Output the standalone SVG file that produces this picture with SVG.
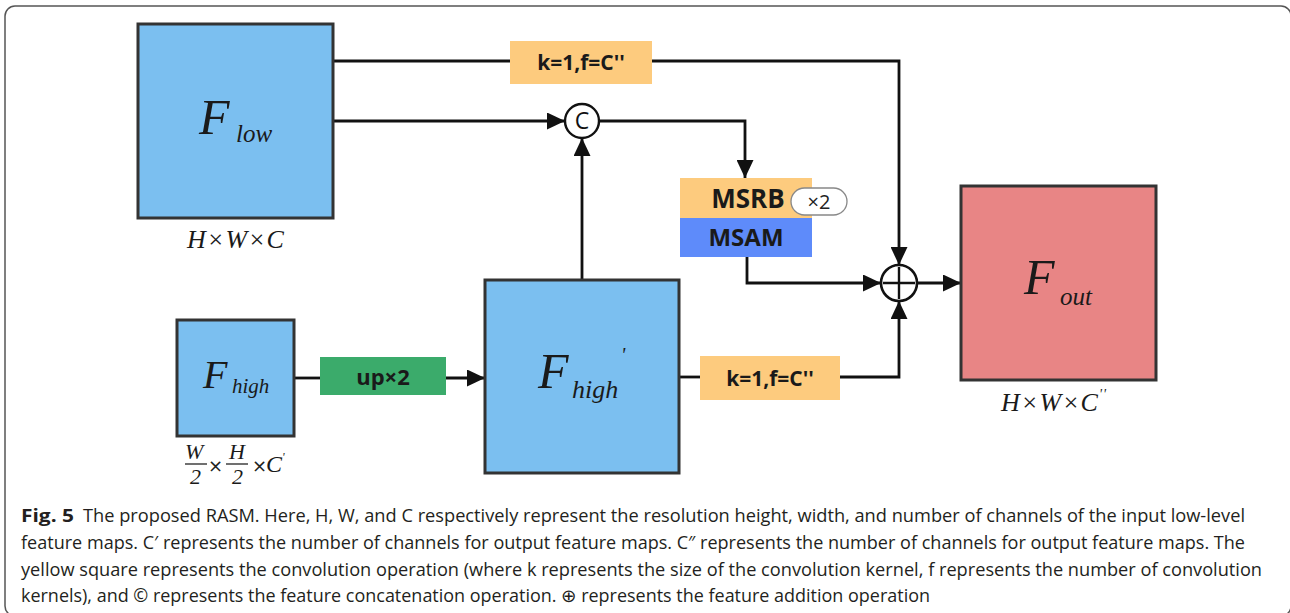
<svg xmlns="http://www.w3.org/2000/svg" width="1290" height="613" viewBox="0 0 1290 613">
<style>
.map{fill:#7bbff0;stroke:#333;stroke-width:3}
.conv{fill:#fdcb7e}
.lbl{font-family:"Open Sans","DejaVu Sans",sans-serif;font-weight:bold;fill:#1a1a1a;text-anchor:middle}
.math{font-family:"Liberation Serif","Times New Roman",serif;font-style:italic;fill:#1a1a1a}
.cap{font-family:"Open Sans","Noto Sans",sans-serif;font-size:17.5px;fill:#231f20}
.ln{fill:none;stroke:#111;stroke-width:2.8}
</style>
<defs>
<marker id="arr" markerUnits="userSpaceOnUse" markerWidth="18" markerHeight="17" viewBox="0 0 18 17" refX="18" refY="8.5" orient="auto">
<path d="M0,0 L18,8.5 L0,17 z" fill="#111"/>
</marker>
</defs>
<rect x="5" y="6" width="1286" height="610" rx="10" fill="#fff" stroke="#555" stroke-width="1.5"/>

<g id="connectors">
<path class="ln" d="M333,61 H510"/>
<path class="ln" d="M652,61 H899 V265" marker-end="url(#arr)"/>
<path class="ln" d="M333,121 H565" marker-end="url(#arr)"/>
<path class="ln" d="M599,121 H745 V178" marker-end="url(#arr)"/>
<path class="ln" d="M747,257 V283 H881" marker-end="url(#arr)"/>
<path class="ln" d="M917,283 H961" marker-end="url(#arr)"/>
<path class="ln" d="M294,378 H320"/>
<path class="ln" d="M446,378 H485" marker-end="url(#arr)"/>
<path class="ln" d="M582,280 V138" marker-end="url(#arr)"/>
<path class="ln" d="M679,377 H700"/>
<path class="ln" d="M840,377 H899 V301" marker-end="url(#arr)"/>
</g>

<g id="F_low">
<rect class="map" x="138" y="24" width="195" height="194"/>
<text class="math" x="199" y="134" font-size="50">F</text>
<text class="math" x="236" y="142" font-size="25">low</text>
<text class="math" x="236" y="248" font-size="26" text-anchor="middle" letter-spacing="1">H×W×C</text>
</g>

<g id="conv_top">
<rect class="conv" x="510" y="41" width="142" height="43"/>
<text class="lbl" x="581" y="70" font-size="21">k=1,f=C''</text>
</g>

<g id="concat">
<circle cx="582" cy="121" r="17" fill="#fff" stroke="#111" stroke-width="2.4"/>
<text x="582" y="129" font-family="'Open Sans','DejaVu Sans',sans-serif" font-size="23" text-anchor="middle" fill="#111">C</text>
</g>

<g id="msrb_msam">
<rect class="conv" x="680" y="178" width="132" height="40"/>
<rect x="680" y="218" width="132" height="39" fill="#5e8bfa"/>
<text class="lbl" x="748" y="208" font-size="26">MSRB</text>
<text class="lbl" x="746" y="246" font-size="24">MSAM</text>
<rect x="791" y="188" width="56" height="27" rx="13.5" fill="#fff" stroke="#888" stroke-width="1.3"/>
<text x="819" y="209" font-family="'Open Sans','DejaVu Sans',sans-serif" font-size="20" text-anchor="middle" fill="#222">×2</text>
</g>

<g id="add">
<circle cx="899" cy="283" r="18" fill="#fff" stroke="#111" stroke-width="2.6"/>
<path d="M899,267 V299 M883,283 H915" stroke="#111" stroke-width="2.4"/>
</g>

<g id="F_out">
<rect x="961" y="186" width="195" height="194" fill="#e88585" stroke="#333" stroke-width="3"/>
<text class="math" x="1024" y="294" font-size="50">F</text>
<text class="math" x="1060" y="305" font-size="25">out</text>
<text class="math" x="1054" y="411" font-size="26" text-anchor="middle" letter-spacing="1">H×W×C<tspan font-size="14" dy="-12">''</tspan></text>
</g>

<g id="F_high">
<rect class="map" x="177" y="320" width="117" height="116"/>
<text class="math" x="203" y="388" font-size="40">F</text>
<text class="math" x="232" y="393" font-size="21">high</text>
<text class="math" x="185" y="459" font-size="22">W</text>
<line x1="185" y1="464" x2="207" y2="464" stroke="#222" stroke-width="1.3"/>
<text class="math" x="190" y="484" font-size="22" font-style="normal">2</text>
<text x="208" y="472" font-family="'DejaVu Sans',sans-serif" font-size="18" fill="#222">×</text>
<text class="math" x="229" y="459" font-size="22">H</text>
<line x1="226" y1="464" x2="248" y2="464" stroke="#222" stroke-width="1.3"/>
<text class="math" x="232" y="484" font-size="22" font-style="normal">2</text>
<text x="252" y="472" font-family="'DejaVu Sans',sans-serif" font-size="18" fill="#222">×</text>
<text class="math" x="266" y="472" font-size="24">C<tspan font-size="12" dy="-11">'</tspan></text>
</g>

<g id="upsample">
<rect x="320" y="357" width="126" height="38" fill="#3bab6b"/>
<text class="lbl" x="383" y="385" font-size="22">up×2</text>
</g>

<g id="F_high_prime">
<rect class="map" x="485" y="280" width="194" height="193"/>
<text class="math" x="538" y="388" font-size="50">F</text>
<text class="math" x="572" y="398" font-size="26">high</text>
<text class="math" x="621" y="362" font-size="20" font-style="normal">'</text>
</g>

<g id="conv_bottom">
<rect class="conv" x="700" y="356" width="140" height="44"/>
<text class="lbl" x="770" y="386" font-size="21">k=1,f=C''</text>
</g>

<g id="caption">
<text class="cap" x="21" y="522" font-weight="bold" textLength="53" lengthAdjust="spacingAndGlyphs">Fig. 5</text>
<text class="cap" x="83" y="522" textLength="1162" lengthAdjust="spacingAndGlyphs">The proposed RASM. Here, H, W, and C respectively represent the resolution height, width, and number of channels of the input low-level</text>
<text class="cap" x="21" y="549" textLength="1224" lengthAdjust="spacingAndGlyphs">feature maps. C′ represents the number of channels for output feature maps. C″ represents the number of channels for output feature maps. The</text>
<text class="cap" x="21" y="576" textLength="1241" lengthAdjust="spacingAndGlyphs">yellow square represents the convolution operation (where k represents the size of the convolution kernel, f represents the number of convolution</text>
<text class="cap" x="21" y="602" textLength="909" lengthAdjust="spacingAndGlyphs">kernels), and © represents the feature concatenation operation. ⊕ represents the feature addition operation</text>
</g>
</svg>
